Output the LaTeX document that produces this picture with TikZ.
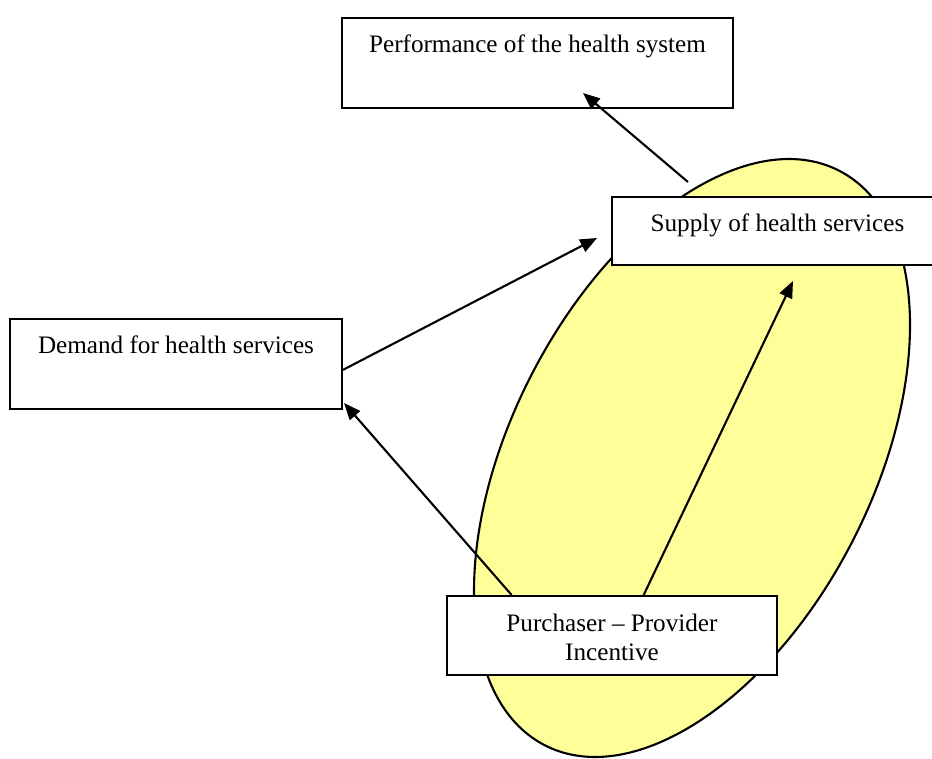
\documentclass[tikz,border=0pt]{standalone}
\usepackage{fontspec}
\setmainfont{Liberation Serif}
\usetikzlibrary{shapes.geometric,arrows.meta}

\begin{document}
\begin{tikzpicture}[
	box/.style={draw,line width=1.5pt,fill=white,inner sep=0pt},
	lbl/.style={anchor=base,yshift=-.9cm,inner sep=0pt,align=center,font=\fontsize{17.9}{21.3}\selectfont},
	arr/.style={line width=1.5pt,-{Triangle[length=.42cm,width=.34cm]}}]
	\useasboundingbox (0,0) rectangle (23.3,18.95);
	\definecolor{zone}{RGB}{255,255,153}

	\node[ellipse,draw,line width=1.5pt,fill=zone,rotate=62.9,minimum width=16.14cm,minimum height=9.04cm,inner sep=0pt] (incentive zone) at (17.3,7.5) {};

	\node[box,minimum width=9.775cm,minimum height=2.25cm,label={[lbl]north:Performance of the health system}] (perf) at (13.4375,17.375) {};
	\node[box,minimum width=8.275cm,minimum height=1.7cm,label={[lbl]north:Supply of health services}] (supply) at (19.4375,13.175) {};
	\node[box,minimum width=8.3cm,minimum height=2.25cm,label={[lbl]north:Demand for health services}] (demand) at (4.4,9.85) {};
	\node[box,minimum width=8.25cm,minimum height=1.975cm,label={[lbl,yshift=-.75cm]north:Purchaser -- Provider\\Incentive}] (purch) at (15.3,3.0625) {};

	\coordinate (perf tip) at (14.575,16.625);
	\coordinate (zone top) at (17.2,14.4);
	\coordinate (supply tip) at (14.925,13);
	\coordinate (supply low) at (19.825,11.925);
	\coordinate (demand tip) at (8.6,8.875);

	\draw[arr] (zone top) -- (perf tip);
	\draw[arr] (demand.-2.8) -- (supply tip);
	\draw[arr] (purch.158.5) -- (demand tip);
	\draw[arr] (purch.52.8) -- (supply low);
\end{tikzpicture}
\end{document}
